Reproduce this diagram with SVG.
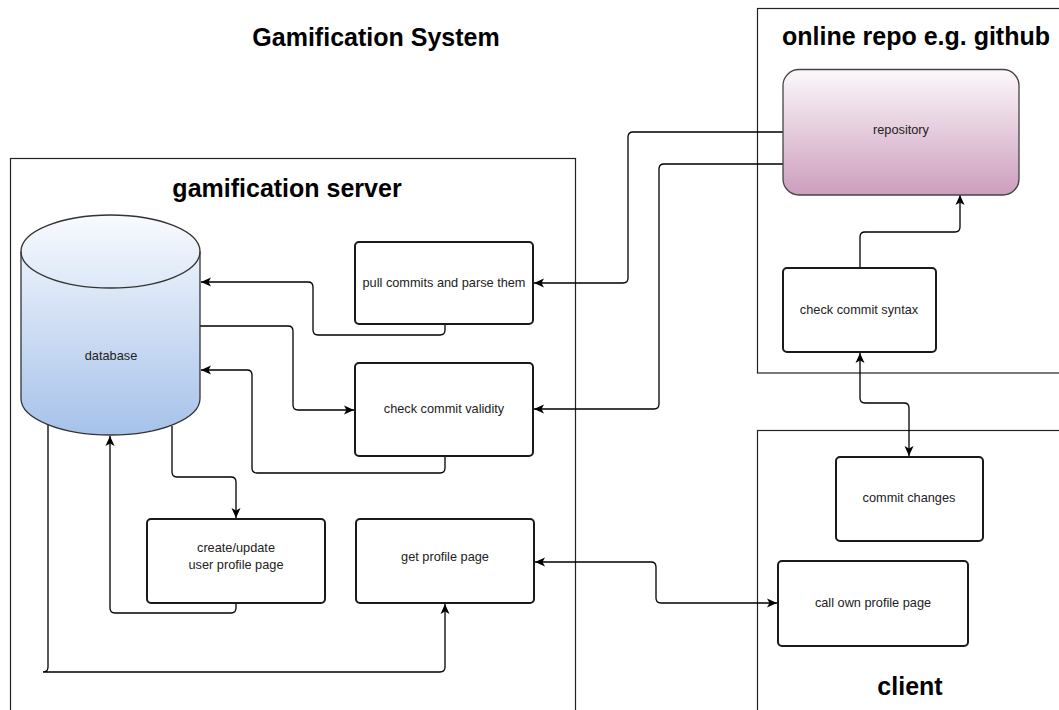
<svg xmlns="http://www.w3.org/2000/svg" width="1059" height="710" viewBox="0 0 1059 710">
<style>
.title{font-family:"Liberation Sans",Arial,sans-serif;font-weight:bold;font-size:25px;fill:#000;text-anchor:middle}
.lbl{font-family:"Liberation Sans",Arial,sans-serif;font-size:12.75px;fill:#222;text-anchor:middle}
.box{fill:#fff;stroke:#1a1a1a;stroke-width:2}
.cont{fill:none;stroke:#222;stroke-width:1.2}
.edge{fill:none;stroke:#000;stroke-width:1.3}
</style>
<defs>
<linearGradient id="gDb" x1="0" y1="0" x2="0" y2="1">
<stop offset="0" stop-color="#f8fafe"/>
<stop offset="1" stop-color="#a6c2ea"/>
</linearGradient>
<linearGradient id="gRepo" x1="0" y1="0" x2="0" y2="1">
<stop offset="0" stop-color="#fcf8fb"/>
<stop offset="1" stop-color="#cc9ebd"/>
</linearGradient>
<marker id="arr" markerUnits="userSpaceOnUse" markerWidth="12" markerHeight="10" viewBox="0 0 12 10" refX="10" refY="5" orient="auto-start-reverse">
<path d="M0,0.5 L10,5 L0,9.5 L2.5,5 Z" fill="#000"/>
</marker>
</defs>
<rect width="1059" height="710" fill="#fff"/>
<text class="title" x="376" y="46">Gamification System</text>
<g id="container-server">
<rect class="cont" x="10.5" y="158.5" width="565" height="600"/>
<text class="title" x="287" y="197">gamification server</text>
</g>
<g id="container-repo">
<rect class="cont" x="757.5" y="8.5" width="320" height="364.5" stroke="#444"/>
<text class="title" x="916" y="45">online repo e.g. github</text>
</g>
<g id="container-client">
<rect class="cont" x="757.5" y="430.5" width="320" height="300"/>
<text class="title" x="910" y="695">client</text>
</g>
<g id="connectors">
<path class="edge" marker-end="url(#arr)" d="M445,324 V330 Q445,335 440,335 H318 Q313,335 313,330 V287 Q313,282 308,282 H201"/>
<path class="edge" marker-end="url(#arr)" d="M200,326 H288 Q293,326 293,331 V405 Q293,410 298,410 H354"/>
<path class="edge" marker-end="url(#arr)" d="M445,456 V468 Q445,473 440,473 H257 Q252,473 252,468 V375 Q252,370 247,370 H201"/>
<path class="edge" marker-end="url(#arr)" d="M172,426 V472 Q172,477 177,477 H231 Q236,477 236,482 V518"/>
<path class="edge" marker-end="url(#arr)" d="M236,603 V608 Q236,613 231,613 H115 Q110,613 110,608 V436"/>
<path class="edge" marker-end="url(#arr)" d="M48,424 V667 Q48,672 43,672 H440 Q445,672 445,667 V604"/>
<path class="edge" marker-end="url(#arr)" d="M783,132 H633 Q628,132 628,137 V278 Q628,283 623,283 H534"/>
<path class="edge" marker-end="url(#arr)" d="M783,164 H664 Q659,164 659,169 V404 Q659,409 654,409 H534"/>
<path class="edge" marker-end="url(#arr)" d="M860,268 V237 Q860,232 865,232 H955 Q960,232 960,227 V195"/>
<path class="edge" marker-start="url(#arr)" marker-end="url(#arr)" d="M860,353 V398 Q860,403 865,403 H904 Q909,403 909,408 V456"/>
<path class="edge" marker-start="url(#arr)" marker-end="url(#arr)" d="M535,562 H651 Q656,562 656,567 V598 Q656,603 661,603 H777"/>
</g>
<g id="database">
<path d="M21,251.5 A89.5,36.5 0 0 1 200,251.5 V398.5 A89.5,36.5 0 0 1 21,398.5 Z" fill="url(#gDb)" stroke="#333" stroke-width="1.3"/>
<path d="M21,251.5 A89.5,36.5 0 0 0 200,251.5" fill="none" stroke="#333" stroke-width="1.3"/>
<text class="lbl" x="111" y="360">database</text>
</g>
<g id="pull-commits">
<rect class="box" x="355" y="242" width="178" height="82" rx="4"/>
<text class="lbl" x="444" y="287">pull commits and parse them</text>
</g>
<g id="check-validity">
<rect class="box" x="355" y="363" width="178" height="93" rx="4"/>
<text class="lbl" x="444" y="413">check commit validity</text>
</g>
<g id="create-update">
<rect class="box" x="147" y="519" width="178" height="84" rx="4"/>
<text class="lbl" x="236" y="552">create/update</text>
<text class="lbl" x="236" y="569">user profile page</text>
</g>
<g id="get-profile">
<rect class="box" x="356" y="519" width="178" height="84" rx="4"/>
<text class="lbl" x="445" y="561">get profile page</text>
</g>
<g id="repository">
<rect x="783" y="69.5" width="236" height="125.5" rx="16" fill="url(#gRepo)" stroke="#444" stroke-width="1.3"/>
<text class="lbl" x="901" y="134">repository</text>
</g>
<g id="check-syntax">
<rect class="box" x="783" y="268" width="153" height="84" rx="4"/>
<text class="lbl" x="859" y="314">check commit syntax</text>
</g>
<g id="commit-changes">
<rect class="box" x="836" y="457" width="147" height="84" rx="4"/>
<text class="lbl" x="909" y="502">commit changes</text>
</g>
<g id="call-profile">
<rect class="box" x="778" y="561" width="190" height="85" rx="4"/>
<text class="lbl" x="873" y="607">call own profile page</text>
</g>
</svg>
